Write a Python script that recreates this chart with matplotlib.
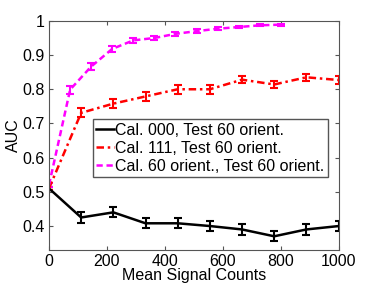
import numpy as np
import matplotlib
matplotlib.use('Agg')
import matplotlib.pyplot as plt

plt.rcParams['font.family'] = ['Liberation Sans', 'DejaVu Sans']

# data
x_cal = [0, 111, 222, 333, 444, 555, 666, 777, 888, 1000]
auc_000 = [0.51, 0.425, 0.44, 0.408, 0.408, 0.40, 0.39, 0.37, 0.39, 0.40]
err_000 = [0.005, 0.015, 0.015, 0.015, 0.015, 0.015, 0.015, 0.015, 0.015, 0.015]
auc_111 = [0.51, 0.731, 0.758, 0.779, 0.80, 0.80, 0.828, 0.814, 0.835, 0.827]
err_111 = [0.005, 0.013, 0.013, 0.013, 0.013, 0.013, 0.011, 0.011, 0.011, 0.011]

x_60 = [0, 73, 145, 218, 291, 364, 436, 509, 582, 655, 727, 800]
auc_60 = [0.52, 0.799, 0.866, 0.918, 0.943, 0.95, 0.962, 0.97, 0.977, 0.982, 0.987, 0.989]
err_60 = [0.005, 0.012, 0.01, 0.009, 0.008, 0.007, 0.006, 0.005, 0.004, 0.004, 0.003, 0.003]

fs = 11.5

fig = plt.figure(figsize=(3.74, 2.86), dpi=100)
ax = fig.add_axes([0.131, 0.126, 0.775, 0.801])

c0 = ax.errorbar(x_cal, auc_000, yerr=err_000, color='black', lw=1.8, capsize=3,
                 elinewidth=1.5, capthick=1.5)
c1 = ax.errorbar(x_cal, auc_111, yerr=err_111, color='red', lw=1.8, capsize=3,
                 elinewidth=1.5, capthick=1.5)
c1[0].set_dashes((3, 1.5, 1, 1.5))
c2 = ax.errorbar(x_60, auc_60, yerr=err_60, color='magenta', lw=1.8, capsize=3,
                 elinewidth=1.5, capthick=1.5)
c2[0].set_dashes((2.5, 1.5))

ax.set_xlim(0, 1000)
ax.set_ylim(0.33, 1.0)
ax.set_xticks([0, 200, 400, 600, 800, 1000])
ax.set_yticks([0.4, 0.5, 0.6, 0.7, 0.8, 0.9, 1.0])
ax.set_yticklabels(['0.4', '0.5', '0.6', '0.7', '0.8', '0.9', '1'])
ax.tick_params(direction='in', top=True, right=True, labelsize=fs, length=3,
               color='#555555', pad=3)
for s in ax.spines.values():
    s.set_color('#555555')
    s.set_linewidth(0.8)

ax.set_xlabel('Mean Signal Counts', fontsize=fs, labelpad=-1)
ax.set_ylabel('AUC', fontsize=fs, labelpad=1)

ax.legend([c0[0], c1[0], c2[0]],
          ['Cal. 000, Test 60 orient.', 'Cal. 111, Test 60 orient.',
           'Cal. 60 orient., Test 60 orient.'],
          loc='upper left', bbox_to_anchor=(0.152, 0.57), fontsize=fs,
          handlelength=1.1, handletextpad=0.1, borderpad=0.2, labelspacing=0.2,
          borderaxespad=0, fancybox=False, framealpha=1, edgecolor='#555555')

fig.savefig('out.png', dpi=100)
